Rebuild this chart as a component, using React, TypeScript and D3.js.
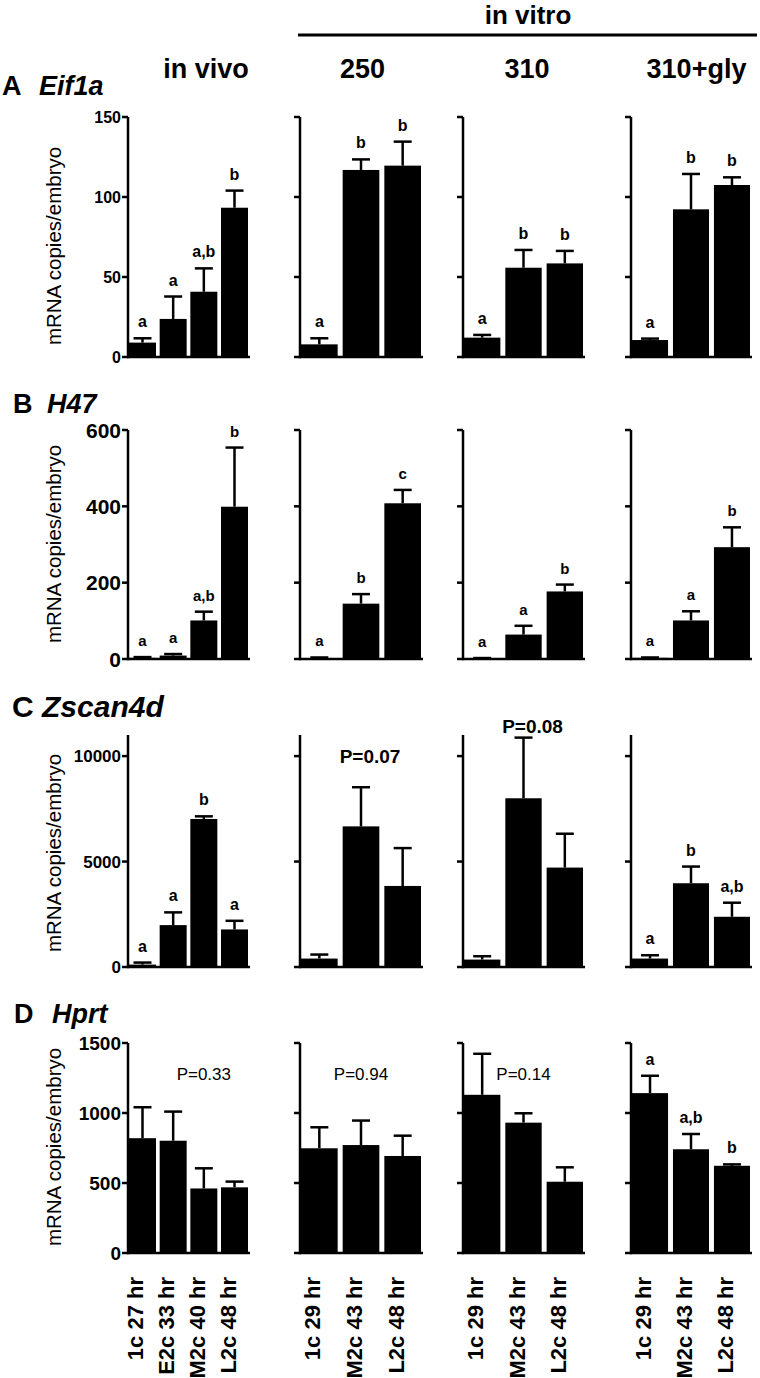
import React from "react";
import * as d3 from "d3";

// groups / stages
const GROUPS = ["in vivo", "250", "310", "310+gly"];
const VIVO_STAGES = ["1c 27 hr", "E2c 33 hr", "M2c 40 hr", "L2c 48 hr"];
const VITRO_STAGES = ["1c 29 hr", "M2c 43 hr", "L2c 48 hr"];

// A  Eif1a
const EIF1A_MEAN = [[9, 23.8, 40.8, 93.3], [7.9, 116.9, 119.6], [12.1, 55.8, 58.5], [10.6, 92.3, 107.5]];
const EIF1A_SEM = [[2.7, 14, 14.6, 10.7], [3.8, 6.6, 15], [1.7, 11.1, 7.8], [0.9, 22.1, 4.8]];
const EIF1A_LETTERS = [["a", "a", "a,b", "b"], ["a", "b", "b"], ["a", "b", "b"], ["a", "b", "b"]];
const EIF1A_TICKS = [0, 50, 100, 150];

// B  H47
const H47_MEAN = [[3, 9, 101, 399], [2, 145, 408], [1.5, 64, 177], [3, 101, 293]];
const H47_SEM = [[2, 4, 23, 155], [2, 25, 35], [1, 23, 18], [1, 24, 52]];
const H47_LETTERS = [["a", "a", "a,b", "b"], ["a", "b", "c"], ["a", "a", "b"], ["a", "a", "b"]];
const H47_TICKS = [0, 200, 400, 600];

// C  Zscan4d
const ZSCAN_MEAN = [[114, 1986, 7019, 1781], [400, 6667, 3843], [352, 8000, 4714], [400, 3971, 2381]];
const ZSCAN_SEM = [[96, 604, 124, 409], [190, 1857, 1795], [158, 2876, 1605], [157, 791, 667]];
const ZSCAN_LETTERS = [["a", "a", "b", "a"], [], [], ["a", "b", "a,b"]];
const ZSCAN_TICKS = [0, 5000, 10000];
const ZSCAN_P = [null, { text: "P=0.07", at: 1, y: 9686 }, { text: "P=0.08", at: 1, y: 11114 }, null];

// D  Hprt
const HPRT_MEAN = [[820, 802, 461, 469], [748, 771, 693], [1130, 931, 509], [1142, 741, 623]];
const HPRT_SEM = [[221, 208, 144, 41], [150, 175, 145], [293, 67, 103], [124, 109, 10]];
const HPRT_LETTERS = [[], [], [], ["a", "a,b", "b"]];
const HPRT_TICKS = [0, 500, 1000, 1500];
const HPRT_P = [{ text: "P=0.33", at: 2, y: 1237 }, { text: "P=0.94", at: 1, y: 1237 }, { text: "P=0.14", at: 1, y: 1237 }, null];

const FONT = "'Liberation Sans', Arial, Helvetica, sans-serif";
const W = 760;
const H = 1378;

const COLS = [
  { x: 128, w: 122, headDx: 17 },
  { x: 300, w: 123, headDx: 1 },
  { x: 463, w: 122, headDx: 3 },
  { x: 631, w: 121, headDx: 5 },
];

const ROWS = [
  { id: "A", gene: "Eif1a", top: 117, bottom: 357, max: 150, ticks: EIF1A_TICKS, tickFont: 16,
    titleY: 95, idX: 2, geneX: 39, titleFont: 27, labelCy: 246,
    means: EIF1A_MEAN, sem: EIF1A_SEM, letters: EIF1A_LETTERS, letterFont: 16, p: null },
  { id: "B", gene: "H47", top: 430, bottom: 659, max: 600, ticks: H47_TICKS, tickFont: 21,
    titleY: 413, idX: 13, geneX: 47, titleFont: 27, labelCy: 544,
    means: H47_MEAN, sem: H47_SEM, letters: H47_LETTERS, letterFont: 15, p: null },
  { id: "C", gene: "Zscan4d", top: 735, bottom: 967, max: 11000, ticks: ZSCAN_TICKS, tickFont: 17,
    titleY: 717, idX: 12, geneX: 42, titleFont: 30, labelCy: 853,
    means: ZSCAN_MEAN, sem: ZSCAN_SEM, letters: ZSCAN_LETTERS, letterFont: 16,
    p: ZSCAN_P, pFont: 19, pWeight: "bold", pDx: 9 },
  { id: "D", gene: "Hprt", top: 1043, bottom: 1253, max: 1500, ticks: HPRT_TICKS, tickFont: 19,
    titleY: 1023, idX: 14, geneX: 52, titleFont: 27, labelCy: 1147,
    means: HPRT_MEAN, sem: HPRT_SEM, letters: HPRT_LETTERS, letterFont: 16,
    p: HPRT_P, pFont: 17, pWeight: "normal", pDx: 0 },
];

const CAP = 18;
const SW = 2.5;

function Panel({ row, gi, last }) {
  const col = COLS[gi];
  const stages = gi === 0 ? VIVO_STAGES : VITRO_STAGES;
  const x = d3.scaleBand().domain(stages).range([col.x + 1, col.x + col.w - 2]).paddingInner(0.12);
  const y = d3.scaleLinear().domain([0, row.max]).range([row.bottom, row.top]);
  const bw = x.bandwidth();
  const means = row.means[gi];
  const sems = row.sem[gi];
  const letters = row.letters[gi] || [];
  const p = row.p ? row.p[gi] : null;

  return (
    <g>
      {stages.map((s, i) => {
        const cx = x(s) + bw / 2;
        const top = y(means[i] + sems[i]);
        return (
          <g key={s}>
            <line x1={cx} x2={cx} y1={y(means[i])} y2={top} stroke="#000" strokeWidth={SW} />
            <line x1={cx - CAP / 2} x2={cx + CAP / 2} y1={top} y2={top} stroke="#000" strokeWidth={SW} />
            <rect x={x(s)} y={y(means[i])} width={bw} height={y(0) - y(means[i])} fill="#000" />
            {letters[i] && (
              <text x={cx} y={top - 11} textAnchor="middle" fontSize={row.letterFont} fontWeight="bold">
                {letters[i]}
              </text>
            )}
            {last && (
              <text transform={`translate(${cx + 1},1277) rotate(-90)`} textAnchor="end" fontSize={22} fontWeight="bold">
                {s}
              </text>
            )}
          </g>
        );
      })}
      {/* axes */}
      <line x1={col.x} x2={col.x} y1={row.bottom + SW / 2} y2={row.top} stroke="#000" strokeWidth={SW} />
      <line x1={col.x} x2={col.x + col.w} y1={row.bottom} y2={row.bottom} stroke="#000" strokeWidth={SW} />
      {row.ticks.map((t) => (
        <g key={t}>
          <line x1={col.x - 6} x2={col.x} y1={y(t)} y2={y(t)} stroke="#000" strokeWidth={SW} />
          {gi === 0 && (
            <text x={col.x - 7} y={y(t)} dy="0.36em" textAnchor="end" fontSize={row.tickFont} fontWeight="bold">
              {t}
            </text>
          )}
        </g>
      ))}
      {p && (
        <text x={x(stages[p.at]) + bw / 2 + row.pDx} y={y(p.y)} textAnchor="middle" fontSize={row.pFont} fontWeight={row.pWeight}>
          {p.text}
        </text>
      )}
    </g>
  );
}

export default function App() {
  return (
    <svg width={W} height={H} viewBox={`0 0 ${W} ${H}`}
      style={{ position: "absolute", left: 0, top: 0, background: "#fff" }}
      fontFamily={FONT} fill="#000">
      <rect width={W} height={H} fill="#fff" />
      {/* headers */}
      <text x={528} y={24} textAnchor="middle" fontSize={26} fontWeight="bold">in vitro</text>
      <line x1={298} x2={757} y1={35} y2={35} stroke="#000" strokeWidth={3} />
      {GROUPS.map((g, gi) => (
        <text key={g} x={COLS[gi].x + COLS[gi].w / 2 + COLS[gi].headDx} y={78}
          textAnchor="middle" fontSize={27} fontWeight="bold">{g}</text>
      ))}
      {ROWS.map((row, ri) => (
        <g key={row.id}>
          <text x={row.idX} y={row.titleY} fontSize={row.titleFont} fontWeight="bold">{row.id}</text>
          <text x={row.geneX} y={row.titleY} fontSize={row.titleFont} fontWeight="bold" fontStyle="italic">{row.gene}</text>
          <text transform={`translate(61,${row.labelCy}) rotate(-90)`} textAnchor="middle" fontSize={20.5}>
            mRNA copies/embryo
          </text>
          {GROUPS.map((g, gi) => (
            <Panel key={g} row={row} gi={gi} last={ri === ROWS.length - 1} />
          ))}
        </g>
      ))}
    </svg>
  );
}
